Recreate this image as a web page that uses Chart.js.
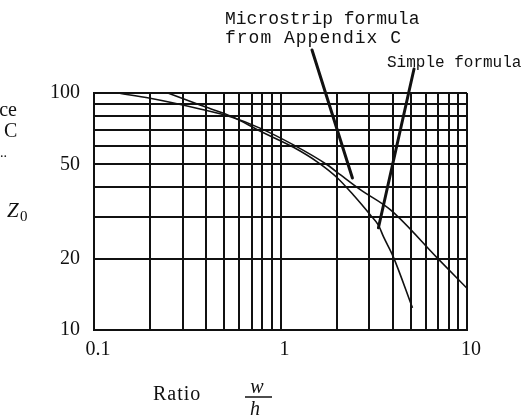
<!DOCTYPE html>
<html>
<head>
<meta charset="utf-8">
<script src="https://cdn.jsdelivr.net/npm/chart.js@4/dist/chart.umd.min.js"></script>
<style>
  html, body { margin: 0; padding: 0; background: #fff; }
  #wrap { width: 528px; height: 416px; }
</style>
</head>
<body>
<div id="wrap"><canvas id="z0-chart" width="528" height="416"></canvas></div>
<script>
// Z0 vs w/h
const microstripRatio = [0.134, 0.2, 0.37, 0.55, 0.776, 1.174, 1.786, 2.1, 2.69, 3.89, 6.94, 10];
const microstripZ0    = [100, 95, 85.6, 79, 71.1, 60.4, 49.7, 45.1, 39.0, 32.1, 20.1, 15];

const simpleRatio = [0.249, 0.37, 0.55, 0.776, 1.174, 1.58, 2.02, 2.46, 3.04, 3.35, 3.57, 4.03, 5.1];
const simpleZ0    = [100, 88.9, 79.5, 69.1, 59.0, 51.1, 43.8, 37.1, 30.5, 27.7, 24.7, 20.3, 12.4];

// grid lines and which of them carry a label
const xGrid   = [0.1, 0.2, 0.3, 0.4, 0.5, 0.6, 0.7, 0.8, 0.9, 1, 2, 3, 4, 5, 6, 7, 8, 9, 10];
const xLabels = [0.1, 1, 10];
const yGrid   = [10, 20, 30, 40, 50, 60, 70, 80, 90, 100];
const yLabels = [10, 20, 50, 100];

// where the two pointer lines touch the curves (data coords)
const microstripTip = { x: 2.43, y: 43.8 };
const simpleTip     = { x: 3.35, y: 27.0 };

const INK = '#111';

const toPoints = (xs, ys) => xs.map((x, i) => ({ x, y: ys[i] }));

/**
 * Callout texts, pointer lines and axis captions drawn straight on the canvas.
 */
const figureText = {
  id: 'figureText',
  afterDraw(chart) {
    const ctx = chart.ctx;
    const sx  = chart.scales.x;
    const sy  = chart.scales.y;
    ctx.save();
    ctx.fillStyle   = INK;
    ctx.strokeStyle = INK;
    ctx.textBaseline = 'alphabetic';

    // callouts
    ctx.font = '18px "Liberation Mono", monospace';
    ctx.textAlign = 'left';
    ctx.fillText('Microstrip formula', 225, 24);
    ctx.letterSpacing = '1px';
    ctx.fillText('from Appendix C', 225, 43);
    ctx.letterSpacing = '0px';
    ctx.font = '16px "Liberation Mono", monospace';
    ctx.fillText('Simple formula', 387, 67);

    // pointers
    ctx.lineWidth = 3;
    ctx.lineCap = 'round';
    ctx.beginPath();
    ctx.moveTo(312, 50);
    ctx.lineTo(sx.getPixelForValue(microstripTip.x), sy.getPixelForValue(microstripTip.y));
    ctx.stroke();
    ctx.beginPath();
    ctx.moveTo(414, 69);
    ctx.lineTo(sx.getPixelForValue(simpleTip.x), sy.getPixelForValue(simpleTip.y));
    ctx.stroke();

    // cut-off caption on the left edge
    ctx.font = '20px "Liberation Serif", serif';
    ctx.textAlign = 'right';
    ctx.fillText('ce', 17, 116);
    ctx.textAlign = 'left';
    ctx.fillText('C', 4, 137);
    ctx.font = '14px "Liberation Serif", serif';
    ctx.fillText('..', 0, 157);

    // Z0 label
    ctx.font = 'italic 21px "Liberation Serif", serif';
    ctx.fillText('Z', 7, 217);
    ctx.font = '15px "Liberation Serif", serif';
    ctx.fillText('0', 20, 221);

    // x caption: Ratio w/h
    ctx.font = '20px "Liberation Serif", serif';
    ctx.letterSpacing = '1px';
    ctx.fillText('Ratio', 153, 400);
    ctx.letterSpacing = '0px';
    ctx.font = 'italic 20px "Liberation Serif", serif';
    ctx.textAlign = 'center';
    ctx.fillText('w', 257, 393);
    ctx.fillText('h', 255, 415);
    ctx.lineWidth = 1.5;
    ctx.lineCap = 'butt';
    ctx.beginPath();
    ctx.moveTo(245, 397);
    ctx.lineTo(272, 397);
    ctx.stroke();

    ctx.restore();
  }
};

const curveStyle = {
  borderColor: INK,
  borderWidth: 1.6,
  pointRadius: 0,
  fill: false,
  cubicInterpolationMode: 'monotone'
};

new Chart(document.getElementById('z0-chart'), {
  type: 'line',
  data: {
    datasets: [
      { label: 'Microstrip formula', data: toPoints(microstripRatio, microstripZ0), ...curveStyle },
      { label: 'Simple formula',     data: toPoints(simpleRatio, simpleZ0),         ...curveStyle }
    ]
  },
  options: {
    responsive: false,
    animation: false,
    layout: { padding: { left: 0, right: 61, top: 93, bottom: 0 } },
    plugins: {
      legend : { display: false },
      tooltip: { enabled: false }
    },
    scales: {
      x: {
        type: 'logarithmic',
        min : 0.1,
        max : 10,
        afterBuildTicks: s => { s.ticks = xGrid.map(v => ({ value: v })); },
        afterFit: s => { s.height = 86; },
        grid  : { color: INK, lineWidth: 2, drawTicks: false },
        border: { color: INK, width: 2 },
        ticks : {
          autoSkip   : false,
          maxRotation: 0,
          padding    : 8,
          labelOffset: 4,
          color      : INK,
          font       : { size: 20, family: '"Liberation Serif", serif' },
          callback   : v => xLabels.includes(v) ? String(v) : ''
        }
      },
      y: {
        type: 'logarithmic',
        min : 10,
        max : 100,
        afterBuildTicks: s => { s.ticks = yGrid.map(v => ({ value: v })); },
        afterFit: s => { s.width = 94; },
        grid  : { color: INK, lineWidth: 2, drawTicks: false },
        border: { color: INK, width: 2 },
        ticks : {
          autoSkip: false,
          padding : 14,
          color   : INK,
          font    : { size: 20, family: '"Liberation Serif", serif' },
          callback: v => yLabels.includes(v) ? String(v) : ''
        }
      }
    }
  },
  plugins: [figureText]
});
</script>
</body>
</html>
